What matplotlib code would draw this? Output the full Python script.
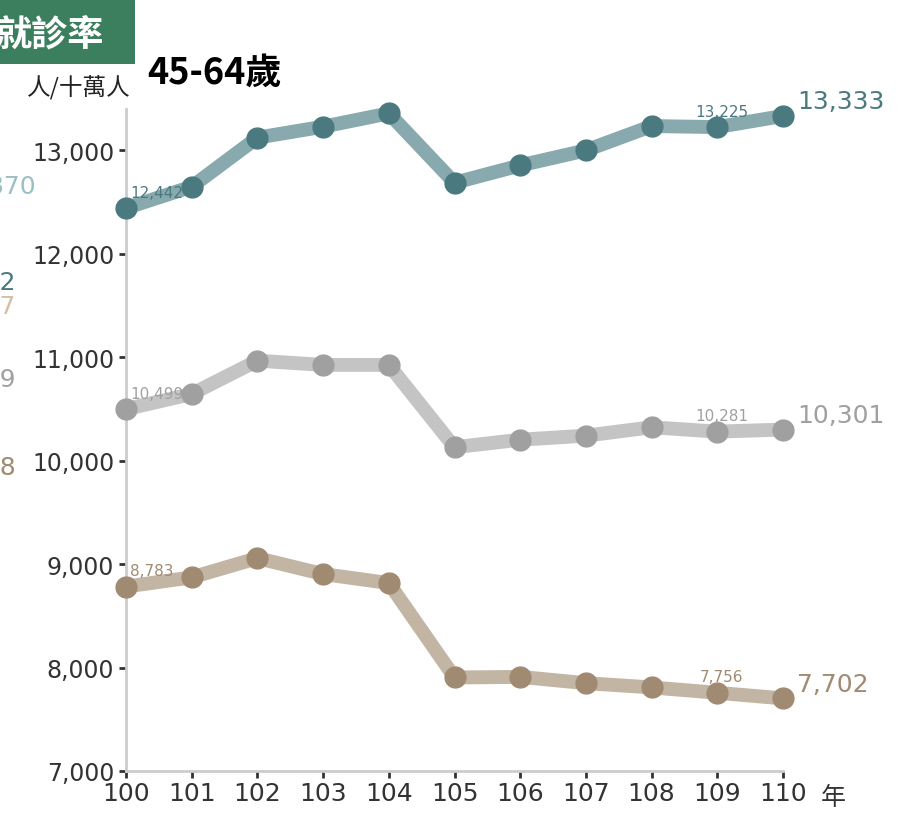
import matplotlib.pyplot as plt
from matplotlib.patches import Rectangle
from matplotlib.ticker import FuncFormatter

plt.rcParams['font.family'] = ['DejaVu Sans', 'Noto Sans CJK TC']

years = [100, 101, 102, 103, 104, 105, 106, 107, 108, 109, 110]
teal_vals = [12442, 12649, 13123, 13229, 13358, 12687, 12855, 13000, 13235, 13225, 13333]
gray_vals = [10499, 10645, 10967, 10926, 10926, 10130, 10203, 10242, 10323, 10281, 10301]
brown_vals = [8783, 8872, 9058, 8904, 8817, 7904, 7910, 7849, 7808, 7756, 7702]

series = [
    (teal_vals, '#88a9ad', '#4a7a80'),
    (gray_vals, '#c4c4c4', '#a0a0a0'),
    (brown_vals, '#c3b5a4', '#a08a72'),
]

# clipped end labels of the neighbouring panel on the left
left_labels = [('12,870', 187, '#9bbfc3'), ('13,332', 283, '#4a7a80'),
               ('10,317', 307, '#d4bfa5'), ('10,419', 380, '#a0a0a0'),
               ('8,718', 468, '#a08a72')]

W, H = 897, 820
fig = plt.figure(figsize=(W / 100, H / 100), dpi=100)
ax = fig.add_axes([126 / W, 1 - 772 / H, (783 - 126) / W, (772 - 110) / H])

for vals, lc, mc in series:
    ax.plot(years, vals, color=lc, lw=10, solid_joinstyle='round', zorder=2, clip_on=False)
    ax.plot(years, vals, 'o', color=mc, ms=15, zorder=3, clip_on=False)
    ax.annotate(f"{vals[0]:,}", (years[0], vals[0]), xytext=(3, 6),
                textcoords='offset points', color=mc, fontsize=11, ha='left', va='bottom')
    ax.annotate(f"{vals[-2]:,}", (years[-2], vals[-2]), xytext=(3, 6),
                textcoords='offset points', color=mc, fontsize=11, ha='center', va='bottom')
    ax.annotate(f"{vals[-1]:,}", (years[-1], vals[-1]), xytext=(10, 2),
                textcoords='offset points', color=mc, fontsize=18, ha='left', va='bottom')

ax.set_xlim(100, 110)
ax.set_ylim(7000, 13400)
ax.set_xticks(years)
ax.set_yticks(range(7000, 13001, 1000))
ax.yaxis.set_major_formatter(FuncFormatter(lambda v, p: f"{int(v):,}"))
ax.tick_params(labelsize=17, colors='#333333', length=5, width=2)
ax.tick_params(axis='x', labelsize=18, pad=2)
for s in ['top', 'right']:
    ax.spines[s].set_visible(False)
for s in ['left', 'bottom']:
    ax.spines[s].set_color('#cccccc')
    ax.spines[s].set_linewidth(2)
ax.patch.set_alpha(0)

ax.text(1.077, -0.04, '年', transform=ax.transAxes, fontsize=18, color='#333333',
        ha='center', va='center', family=['Noto Sans CJK TC'])

fig.patches.append(Rectangle((0, 1 - 65 / H), 135 / W, 65 / H, transform=fig.transFigure,
                             facecolor='#3b7f5f', edgecolor='none', zorder=0))
fig.text(104 / W, 1 - 35 / H, '就診率', color='white', fontsize=26, fontweight='bold',
         ha='right', va='center', family=['Noto Sans CJK TC'])
fig.text(147 / W, 1 - 73 / H, '45-64歲', color='black', fontsize=26, fontweight='bold',
         ha='left', va='center', family=['Noto Sans CJK TC'])
fig.text(131 / W, 1 - 88 / H, '人/十萬人', color='#222222', fontsize=17,
         ha='right', va='center', family=['Noto Sans CJK TC'])

for txt, y, c in left_labels:
    fig.text(36 / W if txt == '12,870' else 16 / W, 1 - y / H, txt, color=c, fontsize=18,
             ha='right', va='center')

fig.savefig('out.png', dpi=100)
